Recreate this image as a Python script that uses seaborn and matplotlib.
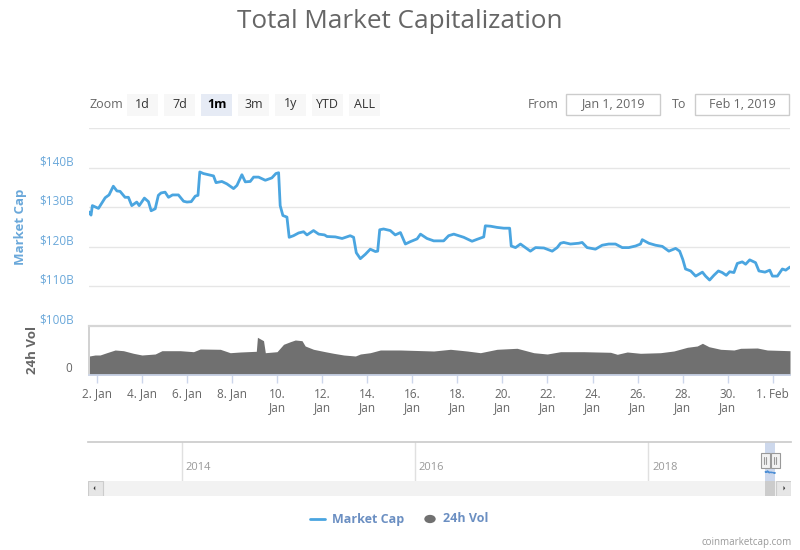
import numpy as np
import pandas as pd
import seaborn as sns
import matplotlib.pyplot as plt
import matplotlib.dates as mdates
from matplotlib.patches import Rectangle, Polygon

# Market cap ($B); day = day of January 2019 (32 = 1 Feb)
cap_days = [1.64, 1.73, 1.79, 2.06, 2.36, 2.53, 2.72, 2.88, 3.02, 3.24, 3.39, 3.54,
            3.76, 3.87, 4.10, 4.28, 4.40, 4.58, 4.72, 4.84, 5.02, 5.17, 5.35, 5.61,
            5.84, 5.99, 6.18, 6.36, 6.48, 6.56, 6.72, 6.95, 7.17, 7.28, 7.54, 7.76,
            8.06, 8.21, 8.43, 8.58, 8.80, 8.95, 9.17, 9.47, 9.76, 9.94, 10.06, 10.13,
            10.25, 10.43, 10.53, 10.72, 10.95, 11.17, 11.32, 11.61, 11.84, 12.10, 12.21,
            12.58, 12.88, 13.24, 13.39, 13.51, 13.69, 13.91, 14.13, 14.36, 14.46, 14.55,
            14.72, 15.02, 15.24, 15.47, 15.69, 15.91, 16.21, 16.36, 16.65, 16.95, 17.39,
            17.61, 17.84, 18.28, 18.65, 18.88, 19.17, 19.24, 19.47, 19.76, 20.06, 20.32,
            20.39, 20.58, 20.80, 21.02, 21.24, 21.47, 21.84, 22.21, 22.43, 22.58, 22.72,
            23.02, 23.39, 23.54, 23.76, 24.13, 24.43, 24.72, 25.02, 25.32, 25.61, 25.91,
            26.13, 26.21, 26.50, 26.80, 27.10, 27.39, 27.69, 27.87, 28.01, 28.13, 28.36,
            28.58, 28.88, 29.02, 29.20, 29.39, 29.59, 29.76, 29.94, 30.09, 30.28, 30.43,
            30.65, 30.80, 30.98, 31.24, 31.39, 31.66, 31.87, 31.99, 32.21, 32.43, 32.58,
            32.77]
cap_vals = [128.8, 128.0, 130.4, 129.7, 132.4, 133.1, 135.3, 134.1, 134.0, 132.5, 132.5, 130.4,
            131.3, 130.4, 132.3, 131.4, 129.1, 129.6, 133.0, 133.6, 133.8, 132.5, 133.1, 133.1,
            131.5, 131.3, 131.4, 132.8, 133.0, 138.9, 138.5, 138.2, 137.9, 136.2, 136.5, 135.9,
            134.7, 135.5, 138.2, 136.4, 136.5, 137.6, 137.6, 136.8, 137.4, 138.5, 138.7, 130.4,
            127.9, 127.5, 122.4, 122.8, 123.5, 123.8, 123.0, 124.1, 123.2, 123.0, 122.6,
            122.5, 122.1, 122.8, 122.4, 118.5, 117.0, 118.1, 119.4, 118.8, 118.9, 124.3,
            124.5, 124.1, 123.0, 123.6, 120.7, 121.3, 122.0, 123.2, 122.1, 121.5, 121.5,
            122.8, 123.2, 122.4, 121.4, 121.9, 122.5, 125.3, 125.2, 124.9, 124.7, 124.7,
            120.2, 119.8, 120.7, 119.8, 118.9, 119.8, 119.7, 118.9, 119.8, 120.9, 121.1,
            120.7, 120.9, 121.1, 119.8, 119.4, 120.4, 120.7, 120.7, 119.8, 119.8, 120.2,
            120.7, 121.8, 120.9, 120.4, 120.1, 118.9, 119.6, 118.9, 116.8, 114.4, 113.9,
            112.6, 113.6, 112.6, 111.6, 112.8, 113.9, 113.5, 112.8, 113.7, 113.5, 115.8,
            116.2, 115.6, 116.7, 116.0, 113.9, 113.6, 114.1, 112.6, 112.6, 114.4, 114.1,
            114.9]

# 24h volume ($B)
vol_days = [1.66, 1.91, 2.13, 2.43, 2.80, 3.17, 3.61, 3.99, 4.58, 4.88, 5.69, 6.28,
            6.58, 7.47, 7.91, 8.36, 9.07, 9.12, 9.39, 9.47, 9.99, 10.28, 10.58, 10.80,
            11.10, 11.24, 11.61, 12.13, 12.50, 12.95, 13.47, 13.69, 14.13, 14.58, 15.47,
            16.95, 17.69, 18.43, 19.02, 19.76, 20.65, 21.39, 21.99, 22.58, 23.61, 24.80,
            25.10, 25.54, 26.13, 27.02, 27.61, 28.21, 28.65, 28.88, 29.17, 29.69, 30.28,
            30.58, 31.32, 31.76, 32.77]
vol_vals = [19.0, 20.0, 20.0, 22.3, 25.0, 24.3, 21.7, 20.0, 21.0, 24.3, 24.3, 23.3,
            26.0, 25.7, 22.3, 23.0, 23.7, 37.7, 34.3, 22.3, 23.3, 30.7, 33.3, 35.0,
            34.3, 29.0, 25.7, 23.3, 21.7, 20.0, 19.0, 21.0, 22.3, 25.0, 25.0,
            24.0, 25.7, 24.0, 22.3, 25.7, 26.7, 22.3, 21.0, 23.3, 23.3, 22.7,
            20.7, 23.0, 21.7, 22.3, 24.0, 27.7, 29.0, 31.7, 28.3, 25.7, 25.0,
            26.7, 27.0, 25.0, 24.3]

cap_ticks = [100, 110, 120, 130, 140, 150]
zoom_buttons = ["1d", "7d", "1m", "3m", "1y", "YTD", "ALL"]
nav_years = [2014, 2016, 2018]
range_from, range_to = "2019-01-01", "2019-02-01"

BLUE = "#4aa5e0"
LABEL_BLUE = "#6aa8da"
GREY_TXT = "#666666"

sns.set_theme(style="white")
plt.rcParams["font.family"] = ["Open Sans", "DejaVu Sans"]

W, H = 800, 550


def fbox(x0, y0, x1, y1):
    """pixel box (top-left origin) -> figure fraction rect"""
    return [x0 / W, 1 - y1 / H, (x1 - x0) / W, (y1 - y0) / H]


def to_dates(days):
    return pd.Timestamp("2019-01-01") + pd.to_timedelta(np.array(days) - 1, unit="D")


cap_df = pd.DataFrame({"date": to_dates(cap_days), "cap": cap_vals})
vol_df = pd.DataFrame({"date": to_dates(vol_days), "vol": vol_vals})

fig = plt.figure(figsize=(8, 5.5), dpi=100)

# title
fig.text(0.5, 1 - 22 / H, "Total Market Capitalization", ha="center", va="center",
         fontsize=18.8, color=GREY_TXT)

# range selector buttons
fig.text(89 / W, 1 - 104 / H, "Zoom", ha="left", va="center", fontsize=9, color=GREY_TXT)
for i, lab in enumerate(zoom_buttons):
    x0 = 127 + i * 37
    sel = lab == "1m"
    fig.add_artist(Rectangle((x0 / W, 1 - 116 / H), 31 / W, 22 / H,
                             transform=fig.transFigure,
                             facecolor="#e6ebf5" if sel else "#f7f7f7", edgecolor="none"))
    fig.text((x0 + 15.5) / W, 1 - 104 / H, lab, ha="center", va="center", fontsize=9,
             color="#000000" if sel else "#333333", fontweight="bold" if sel else "normal")

fig.text(559 / W, 1 - 104 / H, "From", ha="right", va="center", fontsize=9, color=GREY_TXT)
fig.text(686 / W, 1 - 104 / H, "To", ha="right", va="center", fontsize=9, color=GREY_TXT)
for (x0, x1), txt in zip([(566, 660), (695, 789)], ["Jan 1, 2019", "Feb 1, 2019"]):
    fig.add_artist(Rectangle((x0 / W, 1 - 115 / H), (x1 - x0) / W, 21 / H,
                             transform=fig.transFigure, facecolor="white",
                             edgecolor="#cccccc", lw=1))
    fig.text((x0 + x1) / 2 / W, 1 - 104 / H, txt, ha="center", va="center",
             fontsize=9, color=GREY_TXT)

# main market cap panel
ax = fig.add_axes(fbox(89, 128, 790, 326))
sns.lineplot(data=cap_df, x="date", y="cap", ax=ax, color=BLUE, lw=2)
ax.set_ylim(cap_ticks[0], cap_ticks[-1])
ax.set_yticks(cap_ticks)
ax.yaxis.grid(True, color="#e6e6e6", lw=1)
ax.xaxis.grid(False)
ax.tick_params(left=False, bottom=False, labelleft=False, labelbottom=False)
for s in ax.spines.values():
    s.set_visible(False)
ax.set_xlabel("")
ax.set_ylabel("")
for v in cap_ticks[:-1]:
    ax.annotate(f"${v}B", xy=(0, v), xycoords=ax.get_yaxis_transform(),
                xytext=(-15, 6), textcoords="offset pixels",
                ha="right", va="center", fontsize=8.5, color=LABEL_BLUE)
fig.text(21 / W, 1 - 227 / H, "Market Cap", rotation=90, ha="center", va="center",
         fontsize=9.5, color=LABEL_BLUE, fontweight="bold")

# volume panel
axv = fig.add_axes(fbox(89, 326, 790, 375), sharex=ax)
axv.fill_between(vol_df["date"], vol_df["vol"], color="#707070", lw=0)
axv.set_ylim(0, 49)
axv.set_facecolor("white")
for name, s in axv.spines.items():
    s.set_visible(name in ("left", "top", "bottom"))
axv.spines["top"].set_color("#d6d6d6")
axv.spines["top"].set_linewidth(1.6)
axv.spines["left"].set_color("#cccccc")
axv.spines["bottom"].set_color("#ccd6eb")
axv.set_yticks([])
axv.annotate("0", xy=(0, 0), xycoords=axv.get_yaxis_transform(),
             xytext=(-17, 6), textcoords="offset pixels",
             ha="right", va="center", fontsize=8.5, color=GREY_TXT)
fig.text(33 / W, 1 - 350 / H, "24h Vol", rotation=90, ha="center", va="center",
         fontsize=9.5, color=GREY_TXT, fontweight="bold")

xt = pd.date_range("2019-01-02", "2019-02-01", freq="2D")
xlabels = []
for d in xt:
    lab = f"{d.day}. {d:%b}"
    xlabels.append(lab if len(lab) <= 6 else f"{d.day}.\n{d:%b}")
axv.set_xticks(xt)
axv.set_xticklabels(xlabels, linespacing=1.1)
axv.tick_params(axis="x", bottom=True, length=6, width=1, color="#ccd6eb",
                labelsize=8.5, labelcolor=GREY_TXT, pad=3)
ax.set_xlim(cap_df["date"].iloc[0], cap_df["date"].iloc[-1])

# navigator
nav_lim = (pd.Timestamp("2013-03-14"), pd.Timestamp("2019-03-22"))
axn = fig.add_axes(fbox(88, 441.7, 790.7, 481))
axn.set_xlim(*nav_lim)
axn.set_ylim(0, 1)
for name, s in axn.spines.items():
    s.set_visible(name == "top")
axn.spines["top"].set_color("#cccccc")
axn.set_yticks([])
axn.set_xticks([])
for yr in nav_years:
    t = pd.Timestamp(f"{yr}-01-01")
    axn.axvline(t, color="#e0e0e0", lw=1)
    axn.annotate(str(yr), xy=(t, 0), xycoords=("data", "axes fraction"),
                 xytext=(4, 8), textcoords="offset pixels",
                 ha="left", va="bottom", fontsize=8, color="#999999")
r0, r1 = pd.Timestamp(range_from), pd.Timestamp(range_to)
axn.axvspan(r0, r1, color="#c8d4ea", alpha=0.9, lw=0)
axn2 = axn.twinx()
axn2.plot(cap_df["date"], cap_df["cap"], color="#4d8fd6", lw=1)
axn2.set_ylim(0, 560)
axn2.axis("off")
half = pd.Timedelta(days=14)
for edge in (r0, r1):
    axn.add_patch(Rectangle((mdates.date2num(edge - half), 0.32),
                            mdates.date2num(edge + half) - mdates.date2num(edge - half),
                            0.4, facecolor="#f2f2f2", edgecolor="#999999", lw=0.8,
                            zorder=5))
    for off in (-4, 4):
        axn.plot([edge + pd.Timedelta(days=off)] * 2, [0.42, 0.62], color="#999999",
                 lw=0.8, zorder=6)

# scrollbar
axs = fig.add_axes(fbox(88, 480.7, 790.7, 495.7))
axs.set_xlim(*nav_lim)
axs.set_ylim(0, 1)
axs.set_facecolor("#f2f2f2")
for s in axs.spines.values():
    s.set_visible(False)
axs.set_xticks([])
axs.set_yticks([])
axs.axvspan(r0, r1, color="#cccccc", lw=0)
btn = 14.5 / (790.7 - 88)
for x0, tri in [(0, [(0.5, 0.35), (0.5, 0.65), (0.38, 0.5)]),
                (1 - btn, [(0.5, 0.35), (0.5, 0.65), (0.62, 0.5)])]:
    axs.add_patch(Rectangle((x0, 0), btn, 1, transform=axs.transAxes,
                            facecolor="#e6e6e6", edgecolor="#cccccc", lw=0.8))
    axs.add_patch(Polygon([(x0 + px * btn, py) for px, py in tri], closed=True,
                          transform=axs.transAxes, facecolor="#333333", lw=0))

# legend
ly = 1 - 519 / H
fig.add_artist(plt.Line2D([310 / W, 325 / W], [ly, ly], transform=fig.transFigure,
                          color=BLUE, lw=2))
fig.text(332 / W, ly, "Market Cap", ha="left", va="center", fontsize=9,
         fontweight="bold", color="#6b8fc2")
fig.add_artist(plt.Circle((430 / W, ly), 5 / W, transform=fig.transFigure,
                          color="#707070"))
fig.text(443 / W, ly, "24h Vol", ha="left", va="center", fontsize=9,
         fontweight="bold", color="#6b8fc2")

fig.text(792 / W, 1 - 543 / H, "coinmarketcap.com", ha="right", va="center",
         fontsize=7, color="#999999")

fig.savefig("out.png", dpi=100)
